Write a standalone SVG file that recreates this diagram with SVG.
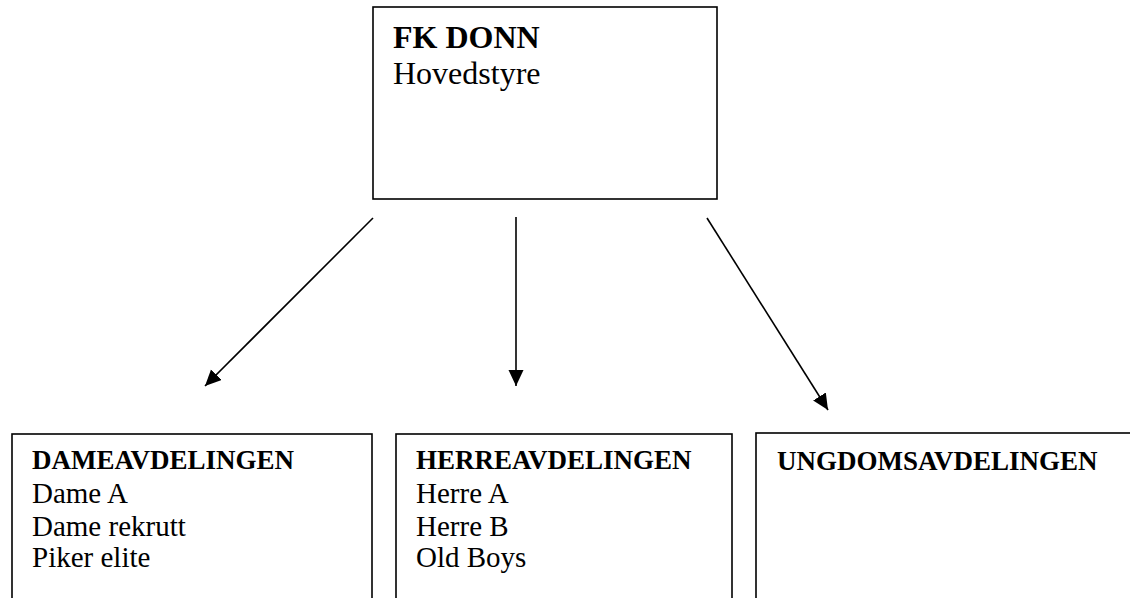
<svg xmlns="http://www.w3.org/2000/svg" width="1130" height="598" viewBox="0 0 1130 598">
<style>
.box{fill:#fff;stroke:#000;stroke-width:1.6}
.t{font-family:"Liberation Serif","Times New Roman",serif;fill:#000}
.h{font-weight:bold;font-size:27px}
.r{font-size:29px}
.conn{stroke:#000;stroke-width:1.6;fill:none}
</style>
<defs>
<marker id="ah" markerUnits="userSpaceOnUse" markerWidth="18" markerHeight="16" refX="16" refY="7.5" orient="auto">
<path d="M0,0 L16,7.5 L0,15 Z" fill="#000"/>
</marker>
</defs>
<rect width="1130" height="598" fill="#fff"/>
<g id="hovedstyre">
<rect class="box" x="373" y="7" width="344" height="192"/>
<text class="t" x="393" y="48" font-size="32" font-weight="bold">FK DONN</text>
<text class="t" x="393" y="84" font-size="32">Hovedstyre</text>
</g>
<g id="dame">
<rect class="box" x="12" y="434" width="360" height="180"/>
<text class="t h" x="32" y="469">DAMEAVDELINGEN</text>
<text class="t r" x="32" y="503">Dame A</text>
<text class="t r" x="32" y="536">Dame rekrutt</text>
<text class="t r" x="32" y="567">Piker elite</text>
</g>
<g id="herre">
<rect class="box" x="396" y="434" width="336" height="180"/>
<text class="t h" x="416" y="469">HERREAVDELINGEN</text>
<text class="t r" x="416" y="503">Herre A</text>
<text class="t r" x="416" y="536">Herre B</text>
<text class="t r" x="416" y="567">Old Boys</text>
</g>
<g id="ungdom">
<rect class="box" x="756" y="433" width="390" height="180"/>
<text class="t h" x="777" y="470">UNGDOMSAVDELINGEN</text>
</g>
<g id="connectors">
<line class="conn" x1="373" y1="218" x2="205" y2="386" marker-end="url(#ah)"/>
<line class="conn" x1="516" y1="217" x2="516" y2="386" marker-end="url(#ah)"/>
<line class="conn" x1="707" y1="218" x2="828" y2="410" marker-end="url(#ah)"/>
</g>
</svg>
